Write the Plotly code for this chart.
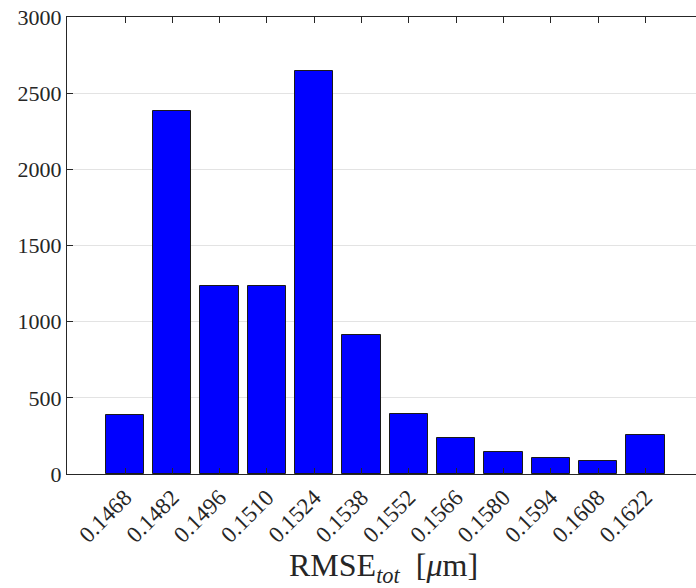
import plotly.graph_objects as go

categories = ["0.1468", "0.1482", "0.1496", "0.1510", "0.1524", "0.1538",
              "0.1552", "0.1566", "0.1580", "0.1594", "0.1608", "0.1622"]
counts = [388, 2382, 1236, 1232, 2645, 912, 397, 239, 145, 108, 86, 256]
y_ticks = [0, 500, 1000, 1500, 2000, 2500, 3000]

FONT = "Liberation Serif"
AX = "#262626"

fig = go.Figure()
fig.add_trace(go.Bar(
    x=categories, y=counts, width=0.81,
    marker=dict(color="#0000ff", line=dict(color="#1a1a1a", width=1)),
))

fig.update_layout(
    width=696, height=588,
    margin=dict(l=67, r=0, t=17, b=114),
    plot_bgcolor="white", paper_bgcolor="white",
    showlegend=False,
    font=dict(family=FONT, size=22, color=AX),
    bargap=0,
)
fig.update_xaxes(
    type="category", range=[-1.226, 12.07],
    tickangle=-45, ticks="inside", ticklen=6, tickcolor=AX, tickwidth=1,
    showline=True, linecolor=AX, linewidth=1, mirror="ticks",
    showgrid=False, zeroline=False,
    tickfont=dict(family=FONT, size=23, color=AX),
)
fig.update_yaxes(
    range=[0, 3000], tickvals=y_ticks, ticktext=[str(v) for v in y_ticks],
    ticks="inside", ticklen=6, tickcolor=AX, tickwidth=1,
    showline=True, linecolor=AX, linewidth=1, mirror=False,
    showgrid=True, gridcolor="#e3e3e3", gridwidth=1, zeroline=False,
    tickfont=dict(family=FONT, size=22, color=AX),
)
fig.add_annotation(
    text="RMSE<sub><i>tot</i></sub>  [<i>μ</i>m]",
    xref="paper", yref="paper", x=0.503, y=-0.205,
    xanchor="center", yanchor="middle", showarrow=False,
    font=dict(family=FONT, size=32, color=AX),
)
fig.write_html("out.html")
